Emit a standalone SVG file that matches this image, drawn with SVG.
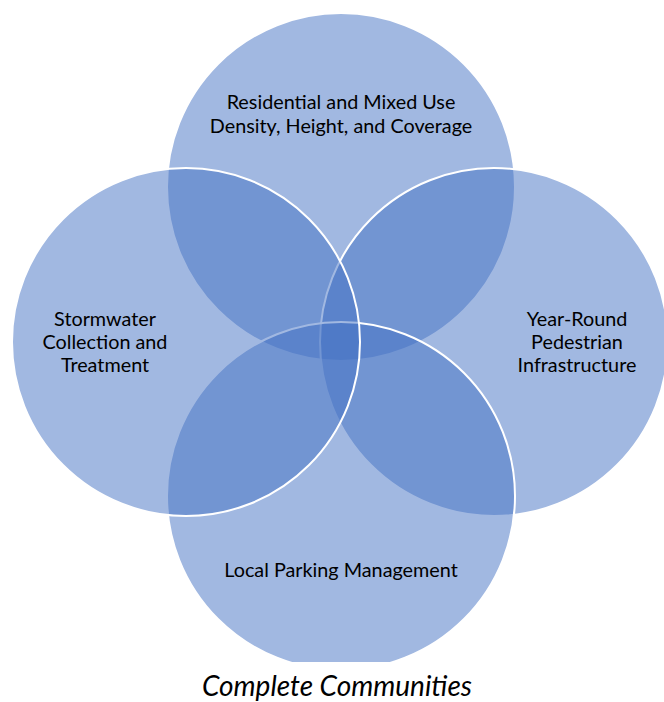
<svg xmlns="http://www.w3.org/2000/svg" width="664" height="702" viewBox="0 0 664 702">
<defs>
<clipPath id="clip"><rect x="0" y="0" width="664" height="662"/></clipPath>
</defs>
<style>
.c{fill:#4472C4;fill-opacity:0.5;stroke:#FFFFFF;stroke-width:2}
.t{font-family:Lato,"Open Sans",sans-serif;font-size:19.8px;fill:#000000;text-anchor:middle}
.cap{font-family:Lato,"Open Sans",sans-serif;font-size:28px;font-style:italic;fill:#000000;text-anchor:middle}
</style>
<rect width="664" height="702" fill="#FFFFFF"/>
<g clip-path="url(#clip)">
<g id="top"><circle class="c" cx="341" cy="187" r="174"/></g>
<g id="right"><circle class="c" cx="494" cy="342" r="174"/></g>
<g id="bottom"><circle class="c" cx="341" cy="496" r="174"/></g>
<g id="left"><circle class="c" cx="186" cy="342" r="174"/></g>
</g>
<g id="connectors"/>
<g id="labels">
<text class="t" x="341" y="109">Residential and Mixed Use</text>
<text class="t" x="341" y="133">Density, Height, and Coverage</text>
<text class="t" x="105" y="326">Stormwater</text>
<text class="t" x="105" y="349">Collection and</text>
<text class="t" x="105" y="372">Treatment</text>
<text class="t" x="577" y="326">Year-Round</text>
<text class="t" x="577" y="349">Pedestrian</text>
<text class="t" x="577" y="372">Infrastructure</text>
<text class="t" x="341" y="577">Local Parking Management</text>
<text class="cap" x="337" y="696">Complete Communities</text>
</g>
</svg>
